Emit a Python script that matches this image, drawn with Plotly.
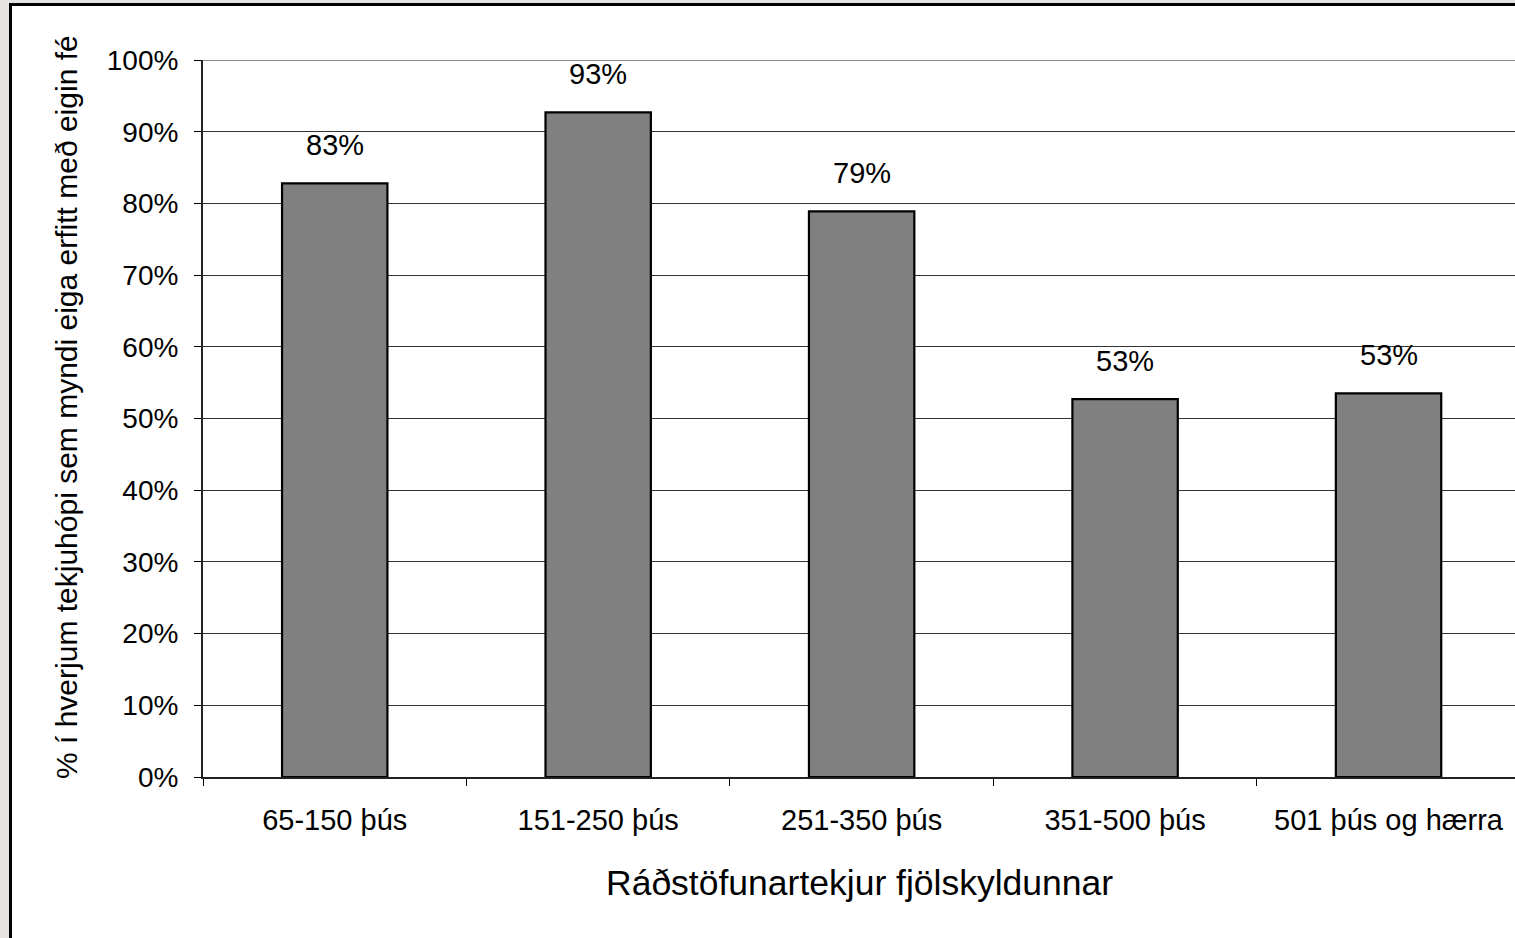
import plotly.graph_objects as go

categories = ["65-150 þús", "151-250 þús", "251-350 þús", "351-500 þús", "501 þús og hærra"]
values = [0.828, 0.927, 0.789, 0.527, 0.535]
labels = ["83%", "93%", "79%", "53%", "53%"]
y_title = "% í hverjum tekjuhópi sem myndi eiga erfitt með eigin fé"
x_title = "Ráðstöfunartekjur fjölskyldunnar"

W, H = 1515, 938
L, R, T, B = 203, 0, 60, 161
PW, PH = W - L - R, H - T - B
FONT = "Liberation Sans, Arial, sans-serif"


def px(x):
    return (x - L) / PW


def py(y):
    return (H - B - y) / PH


fig = go.Figure()
fig.add_trace(go.Bar(
    x=categories, y=values,
    marker=dict(color="#808080", line=dict(color="#000000", width=2.2)),
    width=0.4, hoverinfo="skip",
))

annotations = []
for c, v, t in zip(categories, values, labels):
    annotations.append(dict(x=c, y=v, text=t, showarrow=False, yanchor="middle",
                            yshift=38, font=dict(size=29, color="#000", family=FONT)))
annotations.append(dict(xref="paper", yref="paper", x=0.5, y=py(883), text=x_title,
                        showarrow=False, xanchor="center", yanchor="middle",
                        font=dict(size=35.5, color="#000", family=FONT)))
annotations.append(dict(xref="paper", yref="paper", x=px(66), y=py(781), text=y_title,
                        showarrow=False, textangle=-90, xanchor="center", yanchor="bottom",
                        font=dict(size=30, color="#000", family=FONT)))

shapes = [
    dict(type="rect", xref="paper", yref="paper", x0=px(10.5), x1=px(1560), y0=py(4.5), y1=py(1000),
         line=dict(color="#000", width=3), fillcolor="#ffffff", layer="below"),
    dict(type="line", xref="paper", yref="y", x0=0, x1=1, y0=1, y1=1,
         line=dict(color="#8c8c8c", width=2), layer="above"),
]

fig.update_layout(
    width=W, height=H,
    margin=dict(l=L, r=R, t=T, b=B, pad=0),
    paper_bgcolor="#e4e3df", plot_bgcolor="rgba(0,0,0,0)",
    showlegend=False,
    annotations=annotations, shapes=shapes,
    font=dict(family=FONT, size=28, color="#000"),
    bargap=0.6,
)
fig.update_xaxes(
    type="category", range=[-0.5, 4.48], tickson="boundaries",
    ticks="outside", ticklen=7, tickcolor="#000", tickwidth=1,
    showline=True, linecolor="#222", linewidth=2, showgrid=False,
    tickfont=dict(size=29, family=FONT, color="#000"), ticklabelstandoff=16,
)
fig.update_yaxes(
    range=[0, 1], dtick=0.1, tickformat=".0%",
    ticks="outside", ticklen=7, tickcolor="#000", tickwidth=1,
    showline=True, linecolor="#222", linewidth=2,
    showgrid=True, gridcolor="#333333", gridwidth=1, zeroline=False,
    tickfont=dict(size=28, family=FONT, color="#000"), ticklabelstandoff=10,
)

fig.write_html(
    "out.html",
    config={"displayModeBar": False},
    post_script="document.body.style.margin='0';document.body.style.overflow='hidden';",
)
